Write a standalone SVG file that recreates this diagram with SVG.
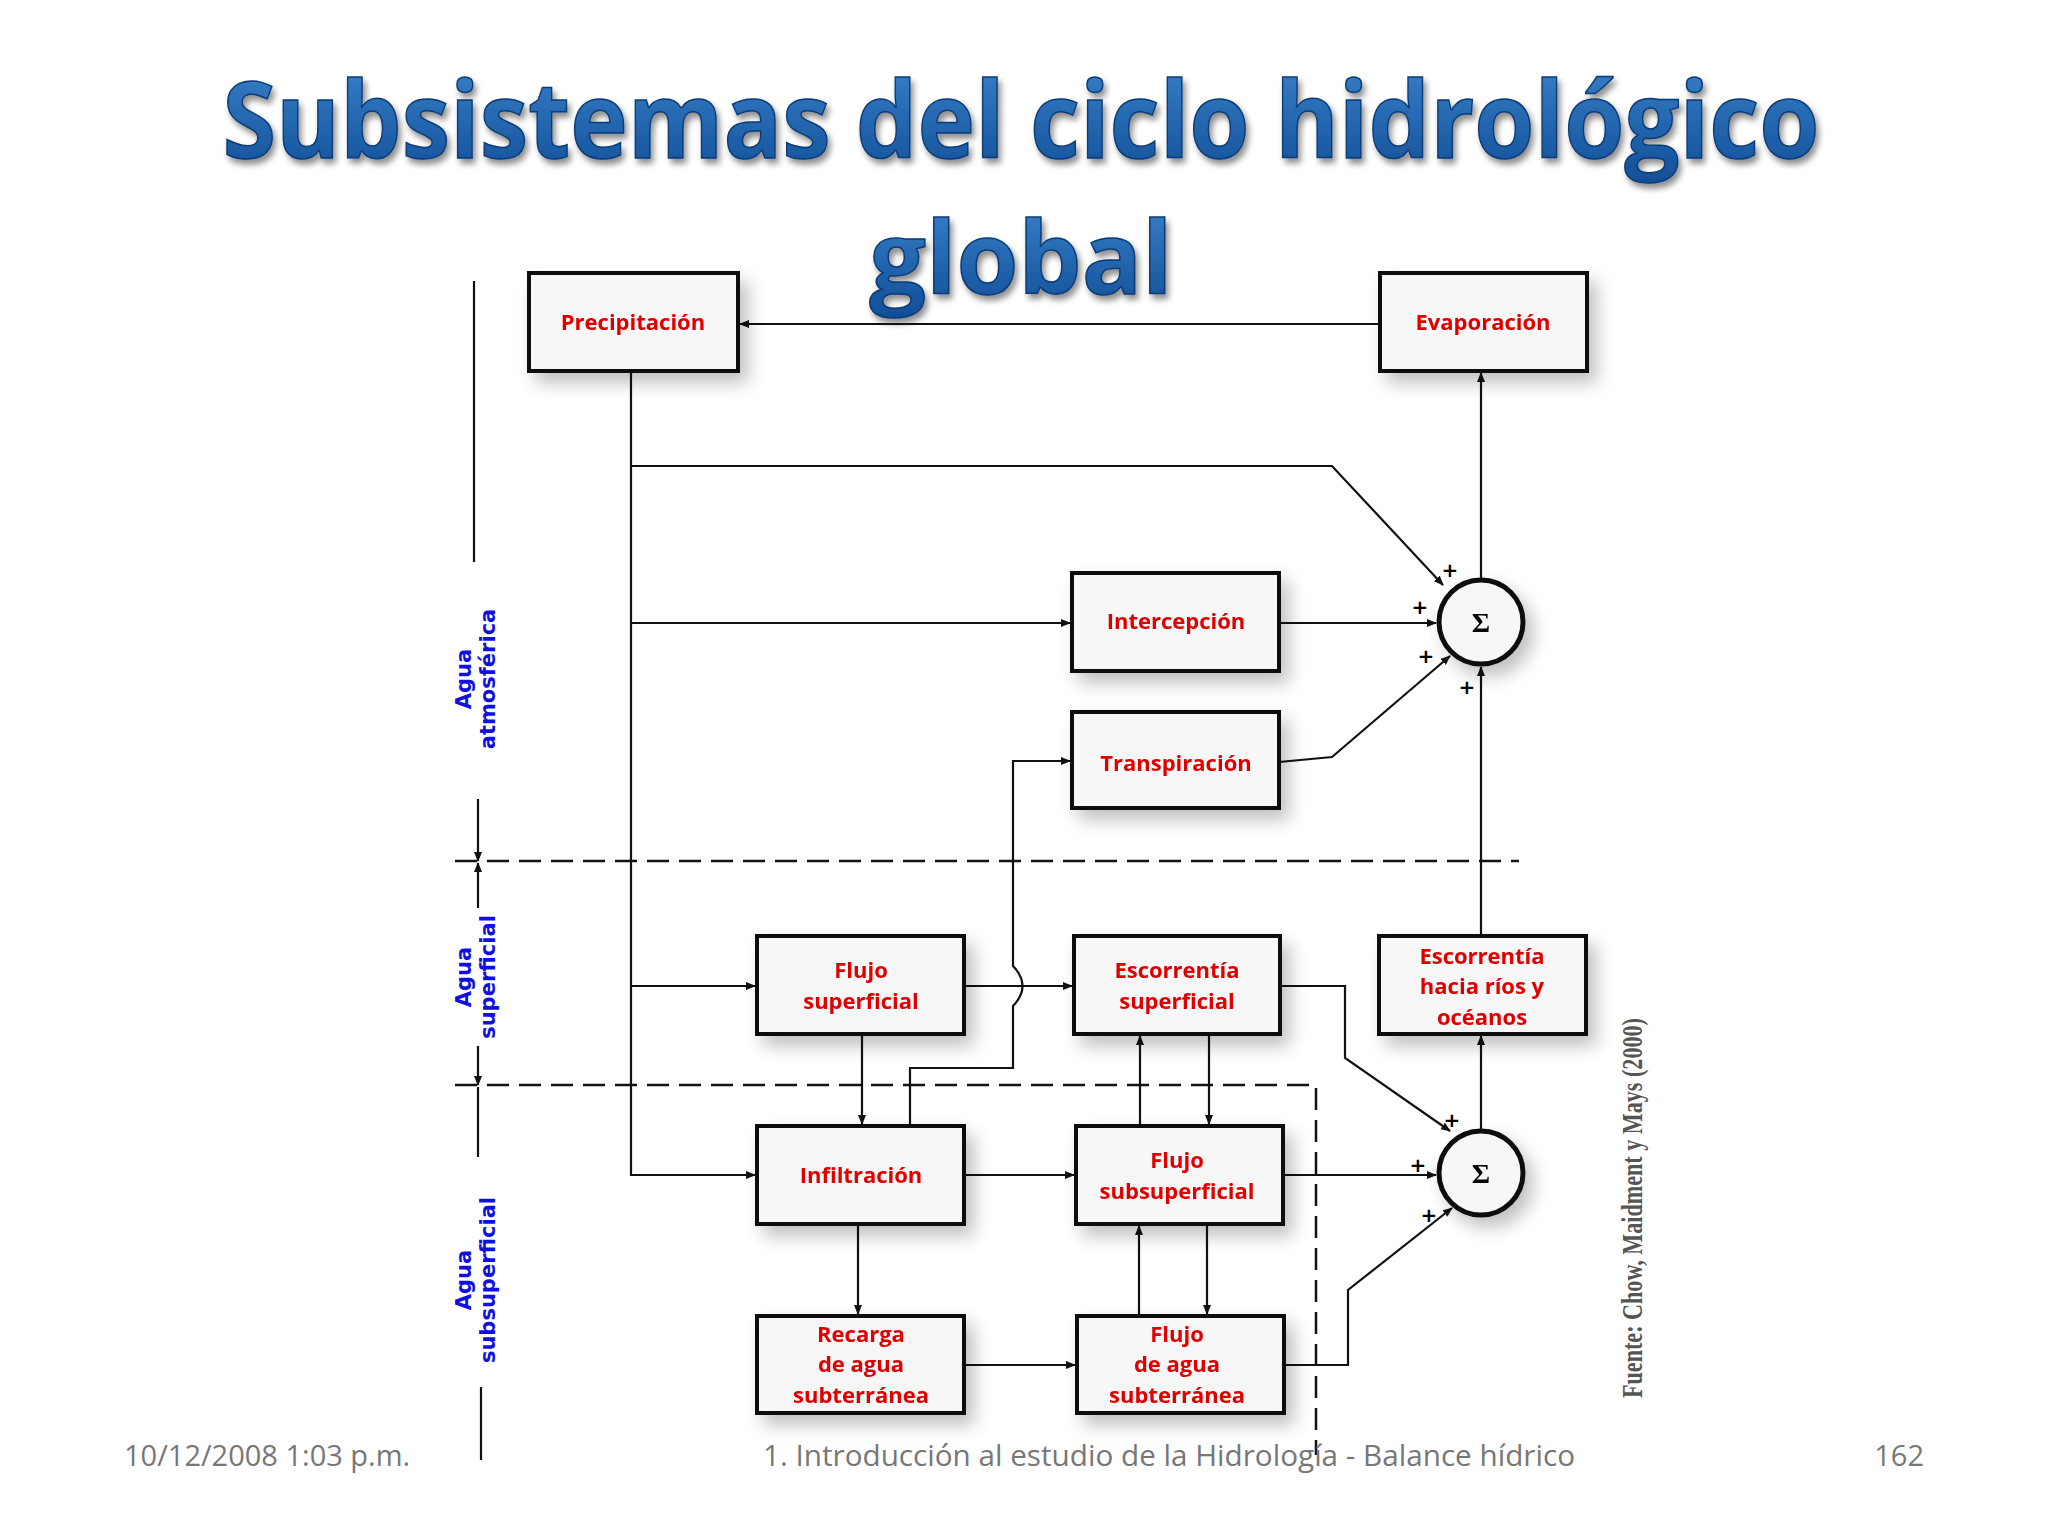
<svg xmlns="http://www.w3.org/2000/svg" width="2048" height="1536" viewBox="0 0 2048 1536">
<defs>
<filter id="sh" x="-20%" y="-20%" width="150%" height="160%"><feGaussianBlur in="SourceAlpha" stdDeviation="9"/><feOffset dx="8" dy="10"/><feComponentTransfer><feFuncA type="linear" slope="0.25"/></feComponentTransfer><feMerge><feMergeNode/><feMergeNode in="SourceGraphic"/></feMerge></filter>
<filter id="tsh" x="-5%" y="-20%" width="110%" height="150%"><feGaussianBlur in="SourceAlpha" stdDeviation="3"/><feOffset dx="3" dy="5"/><feComponentTransfer><feFuncA type="linear" slope="0.45"/></feComponentTransfer><feMerge><feMergeNode/><feMergeNode in="SourceGraphic"/></feMerge></filter>
<linearGradient id="tg" x1="0" y1="0" x2="0" y2="1"><stop offset="0" stop-color="#3d86cf"/><stop offset="1" stop-color="#0e4c94"/></linearGradient>
<marker id="ar" markerWidth="10" markerHeight="8" refX="9" refY="4" orient="auto" markerUnits="userSpaceOnUse"><path d="M0,0 L10,4 L0,8 z" fill="#111"/></marker>
<style>
.b{fill:#f7f7f7;stroke:#111;stroke-width:4}
.t{font-family:"Open Sans","DejaVu Sans",sans-serif;font-weight:bold;font-size:22px;fill:#e00000;text-anchor:middle}
.c{fill:none;stroke:#111;stroke-width:2.2}
.a{marker-end:url(#ar)}
.d{fill:none;stroke:#111;stroke-width:2.5;stroke-dasharray:22,10}
.p{font-family:"DejaVu Sans",sans-serif;font-size:20px;font-weight:bold;fill:#000;text-anchor:middle}
.ag{font-family:"DejaVu Sans",sans-serif;font-weight:bold;font-size:21px;fill:#1010e0;text-anchor:middle}
.f{font-family:"Open Sans",sans-serif;font-size:29px;fill:#777}
</style>
</defs>
<rect width="2048" height="1536" fill="#fff"/>
<g filter="url(#tsh)" font-family="'Open Sans','DejaVu Sans',sans-serif" font-weight="bold" fill="url(#tg)" stroke="#0a3a75" stroke-width="1.5" text-anchor="middle">
<text x="1021" y="158" font-size="106" textLength="1597" lengthAdjust="spacingAndGlyphs">Subsistemas del ciclo hidrológico</text>
<text x="1021" y="294" font-size="100">global</text>
</g>
<g id="connectors">
<line class="c a" x1="1380" y1="324" x2="740" y2="324"/>
<polyline class="c a" points="631,371 631,1175 755,1175"/>
<polyline class="c a" points="631,466 1332,466 1443,585"/>
<line class="c a" x1="631" y1="623" x2="1070" y2="623"/>
<line class="c a" x1="631" y1="986" x2="755" y2="986"/>
<line class="c a" x1="1279" y1="623" x2="1436" y2="623"/>
<polyline class="c a" points="1279,762 1332,757 1450,656"/>
<line class="c a" x1="1481" y1="579" x2="1481" y2="373"/>
<line class="c a" x1="1481" y1="936" x2="1481" y2="667"/>
<path class="c a" d="M910,1126 L910,1068 L1013,1068 L1013,1006 Q1032,986 1013,966 L1013,761 L1070,761"/>
<line class="c a" x1="964" y1="986" x2="1072" y2="986"/>
<line class="c a" x1="862" y1="1034" x2="862" y2="1124"/>
<line class="c a" x1="1140" y1="1126" x2="1140" y2="1036"/>
<line class="c a" x1="1209" y1="1034" x2="1209" y2="1124"/>
<polyline class="c a" points="1280,986 1345,986 1345,1058 1450,1131"/>
<line class="c a" x1="964" y1="1175" x2="1074" y2="1175"/>
<line class="c a" x1="1283" y1="1175" x2="1436" y2="1175"/>
<line class="c a" x1="858" y1="1224" x2="858" y2="1314"/>
<line class="c a" x1="1139" y1="1316" x2="1139" y2="1226"/>
<line class="c a" x1="1207" y1="1224" x2="1207" y2="1314"/>
<line class="c a" x1="964" y1="1365" x2="1075" y2="1365"/>
<polyline class="c a" points="1284,1365 1348,1365 1348,1290 1452,1208"/>
<line class="c a" x1="1481" y1="1130" x2="1481" y2="1036"/>
<line class="d" x1="455" y1="861" x2="1519" y2="861"/>
<polyline class="d" points="455,1085 1316,1085 1316,1455"/>
<line class="c" x1="474" y1="281" x2="474" y2="562"/>
<line class="c a" x1="478" y1="799" x2="478" y2="861"/>
<line class="c a" x1="478" y1="908" x2="478" y2="863"/>
<line class="c a" x1="478" y1="1046" x2="478" y2="1085"/>
<line class="c" x1="478" y1="1087" x2="478" y2="1157"/>
<line class="c" x1="481" y1="1387" x2="481" y2="1460"/>
</g>
<g id="precipitacion" filter="url(#sh)"><rect class="b" x="529" y="273" width="209" height="98"/><text class="t" x="633" y="330">Precipitación</text></g>
<g id="evaporacion" filter="url(#sh)"><rect class="b" x="1380" y="273" width="207" height="98"/><text class="t" x="1483" y="330">Evaporación</text></g>
<g id="intercepcion" filter="url(#sh)"><rect class="b" x="1072" y="573" width="207" height="98"/><text class="t" x="1176" y="629">Intercepción</text></g>
<g id="transpiracion" filter="url(#sh)"><rect class="b" x="1072" y="712" width="207" height="96"/><text class="t" x="1176" y="771">Transpiración</text></g>
<g id="flujo-superficial" filter="url(#sh)"><rect class="b" x="757" y="936" width="207" height="98"/><text class="t" x="861" y="978">Flujo</text><text class="t" x="861" y="1009">superficial</text></g>
<g id="escorrentia-superficial" filter="url(#sh)"><rect class="b" x="1074" y="936" width="206" height="98"/><text class="t" x="1177" y="978">Escorrentía</text><text class="t" x="1177" y="1009">superficial</text></g>
<g id="escorrentia-rios" filter="url(#sh)"><rect class="b" x="1379" y="936" width="207" height="98"/><text class="t" x="1482" y="964">Escorrentía</text><text class="t" x="1482" y="994">hacia ríos y</text><text class="t" x="1482" y="1025">océanos</text></g>
<g id="infiltracion" filter="url(#sh)"><rect class="b" x="757" y="1126" width="207" height="98"/><text class="t" x="861" y="1183">Infiltración</text></g>
<g id="flujo-subsuperficial" filter="url(#sh)"><rect class="b" x="1076" y="1126" width="207" height="98"/><text class="t" x="1177" y="1168">Flujo</text><text class="t" x="1177" y="1199">subsuperficial</text></g>
<g id="recarga" filter="url(#sh)"><rect class="b" x="757" y="1316" width="207" height="97"/><text class="t" x="861" y="1342">Recarga</text><text class="t" x="861" y="1372">de agua</text><text class="t" x="861" y="1403">subterránea</text></g>
<g id="flujo-subterranea" filter="url(#sh)"><rect class="b" x="1077" y="1316" width="207" height="97"/><text class="t" x="1177" y="1342">Flujo</text><text class="t" x="1177" y="1372">de agua</text><text class="t" x="1177" y="1403">subterránea</text></g>
<g id="sum1" filter="url(#sh)"><circle cx="1481" cy="622" r="42" fill="#f7f7f7" stroke="#111" stroke-width="5"/><text x="1481" y="632" font-family="Liberation Serif,serif" font-size="28" font-weight="bold" text-anchor="middle">Σ</text></g>
<g id="sum2" filter="url(#sh)"><circle cx="1481" cy="1173" r="42" fill="#f7f7f7" stroke="#111" stroke-width="5"/><text x="1481" y="1183" font-family="Liberation Serif,serif" font-size="28" font-weight="bold" text-anchor="middle">Σ</text></g>
<g id="signs">
<text class="p" x="1450" y="577">+</text><text class="p" x="1420" y="614">+</text><text class="p" x="1426" y="663">+</text><text class="p" x="1467" y="694">+</text>
<text class="p" x="1452" y="1127">+</text><text class="p" x="1418" y="1172">+</text><text class="p" x="1429" y="1222">+</text>
</g>
<g id="labels">
<g transform="translate(479,679) rotate(-90)"><text class="ag" x="0" y="-8">Agua</text><text class="ag" x="0" y="16">atmosférica</text></g>
<g transform="translate(479,977) rotate(-90)"><text class="ag" x="0" y="-8">Agua</text><text class="ag" x="0" y="16">superficial</text></g>
<g transform="translate(479,1280) rotate(-90)"><text class="ag" x="0" y="-8">Agua</text><text class="ag" x="0" y="16">subsuperficial</text></g>
<text transform="translate(1642,1208) rotate(-90)" font-family="Liberation Serif,serif" font-weight="bold" font-size="29" fill="#555" text-anchor="middle" textLength="380" lengthAdjust="spacingAndGlyphs">Fuente: Chow, Maidment y Mays (2000)</text>
</g>
<g id="footer">
<text class="f" x="124" y="1466">10/12/2008 1:03 p.m.</text>
<text class="f" x="1169" y="1466" text-anchor="middle" textLength="812" lengthAdjust="spacingAndGlyphs">1. Introducción al estudio de la Hidrología - Balance hídrico</text>
<text class="f" x="1924" y="1466" text-anchor="end">162</text>
</g>
</svg>
